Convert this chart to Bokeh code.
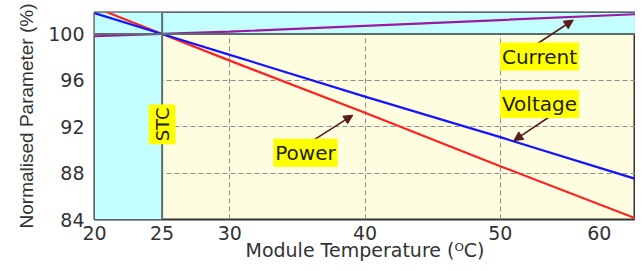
from bokeh.plotting import figure
from bokeh.models import (BoxAnnotation, Span, Label, Arrow, NormalHead,
                          FixedTicker, ColumnDataSource, Range1d)
from bokeh.embed import file_html
from bokeh.resources import INLINE
import math

# ---- data ----
temps = [20, 25, 30, 40, 50, 60]
power = [102.3, 100.0, 97.7, 93.2, 88.6, 84.1]
voltage = [101.8, 100.0, 98.2, 94.6, 91.1, 87.5]
current = [99.8, 100.0, 100.2, 100.7, 101.2, 101.7]

stc_temp = 25
stc_norm = 100

x_ticks = [20, 25, 30, 40, 50, 60]
y_ticks = [84, 88, 92, 96, 100]
x_grid = [30, 40, 50]
y_grid = [88, 92, 96]

# label texts, positions (data) and arrows (tail -> head, data)
labels = ["Current", "Voltage", "Power"]
label_x = [52.9, 52.9, 35.6]
label_y = [98.05, 93.95, 89.75]
arrow_x0 = [52.4, 53.7, 36.0]
arrow_y0 = [98.9, 92.9, 90.7]
arrow_x1 = [55.4, 51.0, 39.1]
arrow_y1 = [101.2, 90.8, 93.0]

CYAN = "#c4ffff"
CREAM = "#fffde0"
FONT = "DejaVu Sans"

p = figure(width=635, height=263, output_backend="svg", toolbar_location=None,
           x_range=Range1d(20, 60), y_range=Range1d(84, 101.85),
           min_border_left=94, min_border_right=0, min_border_top=12,
           min_border_bottom=39)

p.background_fill_color = CREAM
p.border_fill_color = "white"
p.outline_line_color = "#333333"
p.outline_line_width = 2

# regions
p.add_layout(BoxAnnotation(right=stc_temp, fill_color=CYAN, fill_alpha=1,
                           line_alpha=0, level="underlay"))
p.add_layout(BoxAnnotation(bottom=stc_norm, fill_color=CYAN, fill_alpha=1,
                           line_alpha=0, level="underlay"))

# grid
p.xgrid.ticker = FixedTicker(ticks=x_grid)
p.ygrid.ticker = FixedTicker(ticks=y_grid)
for g in (p.xgrid, p.ygrid):
    g.grid_line_color = "#8c8c8c"
    g.grid_line_dash = "5 3"
    g.grid_line_width = 1

p.add_layout(Span(location=stc_temp, dimension="height", line_color="#5a6e6e",
                  line_width=2))
p.add_layout(Span(location=stc_norm, dimension="width", line_color="#5a6e6e",
                  line_width=2))

src = ColumnDataSource(dict(t=temps, p=power, v=voltage, c=current))
p.line("t", "p", source=src, line_color="#ff2020", line_width=2.2)
p.line("t", "v", source=src, line_color="#1515ff", line_width=2.2)
p.line("t", "c", source=src, line_color="#9a1aa6", line_width=2.2)

# axes
p.xaxis.ticker = FixedTicker(ticks=x_ticks)
p.yaxis.ticker = FixedTicker(ticks=y_ticks)
# keep the last tick label inside the canvas (figure spaces shift it left)
p.xaxis.major_label_overrides = {60: "60\u2007\u2007"}
for ax in (p.xaxis, p.yaxis):
    ax.axis_line_color = None
    ax.major_tick_line_color = None
    ax.minor_tick_line_color = None
    ax.major_tick_out = 0
    ax.major_tick_in = 0
    ax.minor_tick_out = 0
    ax.minor_tick_in = 0
    ax.major_label_text_font = FONT
    ax.major_label_text_font_size = "19px"
    ax.major_label_text_color = "#333333"
    ax.axis_label_text_font_style = "normal"
    ax.axis_label_text_color = "#333333"
p.yaxis.major_label_standoff = 10
p.xaxis.major_label_standoff = 2

p.xaxis.axis_label = "Module Temperature (ᴼC)"
p.xaxis.axis_label_text_font = FONT
p.xaxis.axis_label_text_font_size = "19px"
p.xaxis.axis_label_standoff = -8

p.yaxis.axis_label = "Normalised Parameter (%)"
p.yaxis.axis_label_text_font = "Liberation Sans"
p.yaxis.axis_label_text_font_size = "19px"
p.yaxis.axis_label_standoff = 8

# arrows
for x0, y0, x1, y1 in zip(arrow_x0, arrow_y0, arrow_x1, arrow_y1):
    p.add_layout(Arrow(x_start=x0, y_start=y0, x_end=x1, y_end=y1,
                       line_color="#5a1c1c", line_width=1.6,
                       end=NormalHead(size=9, fill_color="#5a1c1c",
                                      line_color="#5a1c1c")))

# labels
for t, x, y in zip(labels, label_x, label_y):
    p.add_layout(Label(x=x, y=y, text=t, text_align="center",
                       text_baseline="middle", text_font=FONT,
                       text_font_size="20px", text_color="#222222",
                       background_fill_color="#ffff00", background_fill_alpha=1,
                       padding=2))

p.add_layout(Label(x=stc_temp, y=92.2, text="STC", angle=math.pi / 2,
                   text_align="center", text_baseline="middle", text_font=FONT,
                   text_font_size="18px", text_color="#222222",
                   background_fill_color="#ffff00", background_fill_alpha=1,
                   padding=3))

open("out.html", "w").write(file_html(p, INLINE))
